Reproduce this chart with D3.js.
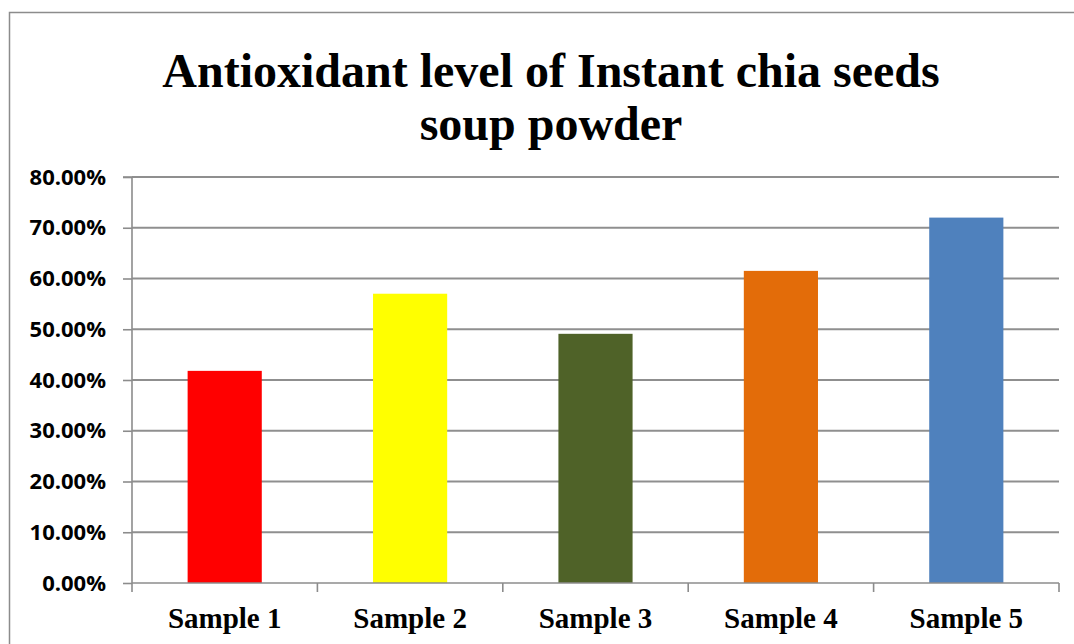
<!DOCTYPE html>
<html>
<head>
<meta charset="utf-8">
<script src="https://cdn.jsdelivr.net/npm/d3@7"></script>
<style>
  html, body { margin: 0; padding: 0; background: #fff; }
  svg { display: block; }
</style>
</head>
<body>
<svg id="chart" width="1074" height="644"></svg>
<script>
// Antioxidant activity (%) of each soup powder sample
const categories = ["Sample 1", "Sample 2", "Sample 3", "Sample 4", "Sample 5"];
const values = [0.418, 0.570, 0.491, 0.615, 0.720];
const barColors = ["#FF0000", "#FFFF00", "#4F6228", "#E36C09", "#4F81BD"];
const yTicks = [0, 0.1, 0.2, 0.3, 0.4, 0.5, 0.6, 0.7, 0.8];
const titleLines = ["Antioxidant level of Instant chia seeds", "soup powder"];

const svg = d3.select("#chart");
const plot = { left: 132, right: 1059, top: 177, bottom: 583 };

// chart frame (runs off the right and bottom edges)
svg.append("rect")
  .attr("x", 9.5).attr("y", 12.5)
  .attr("width", 1200).attr("height", 800)
  .attr("fill", "#fff")
  .attr("stroke", "#8c8c8c").attr("stroke-width", 1.5);

// title
svg.append("text")
  .attr("text-anchor", "middle")
  .attr("font-family", "'Liberation Serif', 'Times New Roman', serif")
  .attr("font-weight", "bold")
  .attr("font-size", 48)
  .attr("fill", "#000")
  .selectAll("tspan")
  .data(titleLines)
  .join("tspan")
  .attr("x", 551)
  .attr("y", (d, i) => 87 + i * 53)
  .text(d => d);

const x = d3.scaleBand()
  .domain(categories)
  .range([plot.left, plot.right])
  .paddingInner(0.6)
  .paddingOuter(0.3);

const y = d3.scaleLinear()
  .domain([0, 0.8])
  .range([plot.bottom, plot.top]);

// horizontal gridlines
svg.append("g")
  .selectAll("line")
  .data(yTicks.filter(d => d > 0))
  .join("line")
  .attr("x1", plot.left).attr("x2", plot.right)
  .attr("y1", d => y(d)).attr("y2", d => y(d))
  .attr("stroke", "#8f8f8f").attr("stroke-width", 1.8);

// bars
svg.append("g")
  .selectAll("rect")
  .data(categories)
  .join("rect")
  .attr("x", d => x(d))
  .attr("width", x.bandwidth())
  .attr("y", (d, i) => y(values[i]))
  .attr("height", (d, i) => y(0) - y(values[i]))
  .attr("fill", (d, i) => barColors[i]);

// y axis
const yAxis = svg.append("g")
  .attr("transform", `translate(${plot.left},0)`)
  .call(d3.axisLeft(y).tickValues(yTicks).tickSize(9).tickPadding(17)
    .tickFormat(d3.format(".2%")));
yAxis.select(".domain").attr("stroke", "#8c8c8c").attr("stroke-width", 1.6)
  .attr("d", `M-9,${plot.top}H0V${plot.bottom}`);
yAxis.selectAll(".tick line").attr("stroke", "#8c8c8c").attr("stroke-width", 1.6);
yAxis.selectAll(".tick text")
  .attr("font-family", "'Open Sans', 'Liberation Sans', sans-serif")
  .attr("font-weight", "bold")
  .attr("font-size", 22)
  .attr("fill", "#000");

// x axis with boundary ticks between categories
const xAxis = svg.append("g").attr("transform", `translate(0,${plot.bottom})`);
xAxis.append("line")
  .attr("x1", plot.left).attr("x2", plot.right)
  .attr("stroke", "#8c8c8c").attr("stroke-width", 1.6);
const step = x.step();
xAxis.selectAll("line.bound")
  .data(d3.range(categories.length + 1))
  .join("line")
  .attr("class", "bound")
  .attr("x1", i => plot.left + i * step).attr("x2", i => plot.left + i * step)
  .attr("y1", 0).attr("y2", 9)
  .attr("stroke", "#8c8c8c").attr("stroke-width", 1.6);
xAxis.selectAll("text")
  .data(categories)
  .join("text")
  .attr("x", d => x(d) + x.bandwidth() / 2)
  .attr("y", 45)
  .attr("text-anchor", "middle")
  .attr("font-family", "'Liberation Serif', 'Times New Roman', serif")
  .attr("font-weight", "bold")
  .attr("font-size", 29)
  .attr("fill", "#000")
  .text(d => d);
</script>
</body>
</html>
